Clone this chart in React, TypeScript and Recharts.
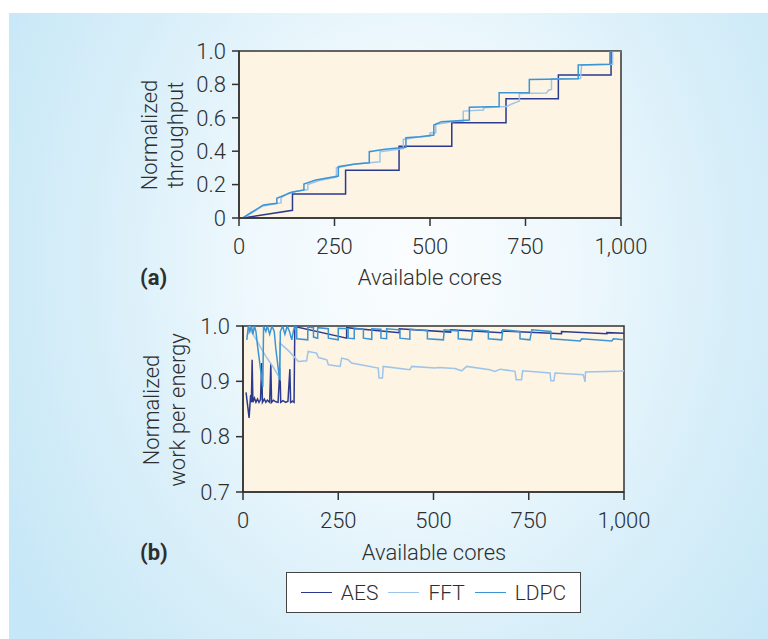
import React from 'react';
import { LineChart, Line, XAxis, YAxis, ReferenceArea } from 'recharts';

// (a) normalized throughput vs available cores: [cores, value] corner points
const aesThroughput: [number, number][] = [
  [10, 0], [140, 0.046], [140, 0.143], [279, 0.143], [279, 0.286], [419, 0.286], [419, 0.429],
  [557, 0.429], [557, 0.571], [699, 0.571], [699, 0.714], [836, 0.714], [836, 0.857],
  [974, 0.857], [974, 1.0], [1000, 1.0],
];
const fftThroughput: [number, number][] = [
  [10, 0], [30, 0.025], [60, 0.07], [95, 0.085], [110, 0.09], [110, 0.12], [130, 0.15], [150, 0.16],
  [180, 0.17], [180, 0.2], [210, 0.225], [255, 0.245], [255, 0.3], [300, 0.322], [369, 0.337],
  [369, 0.397], [430, 0.415], [430, 0.47], [470, 0.485], [500, 0.49], [500, 0.51], [515, 0.51],
  [515, 0.56], [560, 0.578], [587, 0.58], [587, 0.64], [640, 0.647], [640, 0.66], [700, 0.667],
  [714, 0.683], [734, 0.7], [734, 0.745], [805, 0.748], [810, 0.765], [818, 0.77], [818, 0.834],
  [894, 0.836], [897, 0.916], [978, 0.92], [978, 1.0], [1000, 1.0],
];
const ldpcThroughput: [number, number][] = [
  [10, 0], [30, 0.03], [64, 0.078], [99, 0.088], [99, 0.118], [138, 0.154], [170, 0.168],
  [170, 0.204], [201, 0.228], [260, 0.251], [260, 0.307], [304, 0.323], [341, 0.331],
  [341, 0.397], [382, 0.411], [437, 0.423], [437, 0.481], [474, 0.487], [510, 0.497],
  [510, 0.557], [530, 0.577], [603, 0.587], [603, 0.663], [681, 0.667], [681, 0.75],
  [760, 0.75], [760, 0.83], [888, 0.834], [888, 0.916], [971, 0.92], [971, 1.0], [1000, 1.0],
];

// (b) normalized work per energy vs available cores
const aesEnergy: [number, number][] = [
  [8, 0.88], [16, 0.834], [20, 0.875], [22, 0.862], [24, 0.939], [26, 0.862], [30, 0.87],
  [34, 0.862], [38, 0.868], [42, 0.862], [46, 0.867], [49, 0.933], [51, 0.862], [56, 0.868],
  [60, 0.862], [64, 0.866], [70, 0.862], [73, 0.932], [75, 0.862], [80, 0.866], [86, 0.863],
  [92, 0.862], [97, 0.924], [99, 0.862], [105, 0.865], [112, 0.862], [118, 0.864],
  [123, 0.922], [125, 0.862], [130, 0.864], [134, 0.862], [136, 0.999], [272, 0.978],
  [272, 0.997], [410, 0.988], [410, 0.995], [545, 0.989], [545, 0.993], [680, 0.988],
  [680, 0.991], [836, 0.986], [836, 0.99], [955, 0.986], [955, 0.988], [1000, 0.987],
];
const fftEnergy: [number, number][] = [
  [14, 0.985], [17, 1.0], [22, 0.99], [35, 0.975], [60, 0.945], [80, 0.925], [97, 0.905],
  [97, 0.969], [120, 0.955], [136, 0.943], [145, 0.936], [167, 0.937], [171, 0.954],
  [193, 0.951], [198, 0.943], [220, 0.939], [224, 0.93], [255, 0.927], [259, 0.942],
  [276, 0.939], [285, 0.933], [355, 0.924], [357, 0.906], [366, 0.906], [368, 0.927],
  [438, 0.921], [443, 0.927], [504, 0.924], [513, 0.925], [556, 0.923], [574, 0.919],
  [587, 0.927], [648, 0.921], [661, 0.918], [675, 0.922], [714, 0.918], [717, 0.903],
  [731, 0.903], [734, 0.919], [806, 0.915], [808, 0.901], [816, 0.901], [819, 0.915],
  [893, 0.912], [898, 0.899], [899, 0.917], [981, 0.918], [1000, 0.919],
];
const ldpcEnergy: [number, number][] = [
  [10, 0.975], [14, 1.0], [18, 0.99], [22, 1.0], [26, 0.985], [30, 1.0], [34, 0.99],
  [38, 0.965], [52, 0.89], [54, 1.0], [60, 0.99], [64, 1.0], [70, 0.985], [76, 1.0],
  [82, 0.99], [86, 0.96], [96, 0.903], [98, 0.99], [104, 1.0], [110, 0.985], [116, 1.0],
  [122, 0.99], [128, 0.975], [132, 0.99], [136, 1.0], [141, 0.998], [141, 0.977],
  [170, 0.975], [170, 0.998], [185, 0.997], [185, 0.98], [196, 0.978], [196, 0.997],
  [224, 0.995], [224, 0.978], [250, 0.975], [250, 0.996], [276, 0.995], [276, 0.978],
  [292, 0.977], [292, 0.995], [316, 0.994], [316, 0.978], [338, 0.976], [338, 0.995],
  [362, 0.994], [362, 0.978], [377, 0.977], [377, 0.995], [412, 0.993], [412, 0.978],
  [438, 0.976], [438, 0.994], [484, 0.992], [484, 0.977], [526, 0.975], [528, 0.993],
  [565, 0.991], [565, 0.977], [600, 0.975], [603, 0.993], [644, 0.991], [644, 0.977],
  [679, 0.975], [682, 0.993], [727, 0.99], [727, 0.977], [753, 0.975], [758, 0.993],
  [808, 0.99], [808, 0.977], [885, 0.973], [889, 0.977], [968, 0.973], [972, 0.977],
  [1000, 0.975],
];

const coreTicks = [0, 250, 500, 750, 1000];
const throughputTicks = [0, 0.2, 0.4, 0.6, 0.8, 1.0];
const energyTicks = [0.7, 0.8, 0.9, 1.0];

const series = [
  { name: 'AES', color: '#2b3a8f' },
  { name: 'FFT', color: '#9dc4ea' },
  { name: 'LDPC', color: '#3b95d4' },
];

const toPoints = (pts: [number, number][]) => pts.map(([x, y]) => ({ x, y }));

const FONT = 'Roboto, "Liberation Sans", Arial, sans-serif';
const TEXT = '#2e2e2e';
const AXIS = '#333333';

const tickStyle = { fill: TEXT, fontSize: 22, fontFamily: FONT, fontWeight: 300 };
const fmtCores = (v: number) => v.toLocaleString('en-US');
const fmtTick = (v: number) => (v === 0 ? '0' : v.toFixed(1));

function Panel({
  top, plotLeft, plotRight, plotTop, plotBottom, yDomain, yTicks, lines,
}: {
  top: number; plotLeft: number; plotRight: number; plotTop: number; plotBottom: number;
  yDomain: [number, number]; yTicks: number[]; lines: [number, number][][];
}) {
  const height = 300;
  const yWidth = 40;
  const xHeight = 40;
  return (
    <div style={{ position: 'absolute', left: 0, top }}>
      <LineChart
        width={768}
        height={height}
        margin={{ left: plotLeft - yWidth, right: 768 - plotRight, top: plotTop, bottom: height - plotBottom - xHeight }}
      >
        <XAxis
          dataKey="x" type="number" domain={[0, 1000]} ticks={coreTicks} tickFormatter={fmtCores}
          height={xHeight} tickSize={8} tickMargin={12} tick={tickStyle}
          stroke={AXIS} strokeWidth={1.5} allowDuplicatedCategory={false}
        />
        <YAxis
          dataKey="y" type="number" domain={yDomain} ticks={yTicks} tickFormatter={fmtTick}
          width={yWidth} tickSize={7} tickMargin={6} tick={tickStyle}
          stroke={AXIS} strokeWidth={1.5} allowDataOverflow
        />
        <ReferenceArea
          x1={0} x2={1000} y1={yDomain[0]} y2={yDomain[1]}
          fill="#fdf4e4" fillOpacity={1} stroke={AXIS} strokeWidth={1.5}
        />
        {lines.map((pts, i) => (
          <Line
            key={series[i].name}
            data={toPoints(pts)}
            dataKey="y"
            type="linear"
            stroke={series[i].color}
            strokeWidth={1.5}
            dot={false}
            activeDot={false}
            isAnimationActive={false}
          />
        ))}
      </LineChart>
    </div>
  );
}

const abs = (s: React.CSSProperties): React.CSSProperties => ({ position: 'absolute', ...s });
const textBase: React.CSSProperties = { fontFamily: FONT, fontSize: 22, fontWeight: 300, lineHeight: '22px', color: TEXT, whiteSpace: 'nowrap' };

function RotLabel({ cx, cy, lines }: { cx: number; cy: number; lines: string[] }) {
  return (
    <div
      style={abs({
        ...textBase,
        left: cx - 100, top: cy - 26, width: 200, height: 52,
        transform: 'rotate(-90deg)', textAlign: 'center', lineHeight: '26px',
      })}
    >
      {lines.map((l) => <div key={l}>{l}</div>)}
    </div>
  );
}

export default function App() {
  return (
    <div style={{ position: 'absolute', left: 0, top: 0, width: 768, height: 639, background: '#ffffff', overflow: 'hidden' }}>
      <div
        style={abs({
          left: 9, top: 13, width: 759, height: 626,
          background: 'radial-gradient(ellipse 62% 95% at 53% 40%, #fbfdfe 0%, #eef8fd 35%, #d9eff9 65%, #c6e7f7 100%)',
        })}
      />
      <Panel
        top={0} plotLeft={239} plotRight={621} plotTop={51} plotBottom={218}
        yDomain={[0, 1]} yTicks={throughputTicks}
        lines={[aesThroughput, fftThroughput, ldpcThroughput]}
      />
      <Panel
        top={275} plotLeft={243} plotRight={624} plotTop={51} plotBottom={217}
        yDomain={[0.7, 1]} yTicks={energyTicks}
        lines={[aesEnergy, fftEnergy, ldpcEnergy]}
      />
      <RotLabel cx={163} cy={135} lines={['Normalized', 'throughput']} />
      <RotLabel cx={165} cy={410} lines={['Normalized', 'work per energy']} />
      <div style={abs({ ...textBase, left: 140, top: 267, fontWeight: 'bold' })}>(a)</div>
      <div style={abs({ ...textBase, left: 330, top: 267, width: 200, textAlign: 'center' })}>Available cores</div>
      <div style={abs({ ...textBase, left: 140, top: 542, fontWeight: 'bold' })}>(b)</div>
      <div style={abs({ ...textBase, left: 334, top: 542, width: 200, textAlign: 'center' })}>Available cores</div>
      <div
        style={abs({
          left: 286, top: 572, width: 293, height: 39, background: '#ffffff',
          border: '1.5px solid #444', display: 'flex', alignItems: 'center', justifyContent: 'center',
          gap: 10, ...textBase, fontSize: 21,
        })}
      >
        {series.map((s) => (
          <div key={s.name} style={{ display: 'flex', alignItems: 'center', gap: 9 }}>
            <div style={{ width: 31, height: 0, borderTop: `1.5px solid ${s.color}` }} />
            <span>{s.name}</span>
          </div>
        ))}
      </div>
    </div>
  );
}
